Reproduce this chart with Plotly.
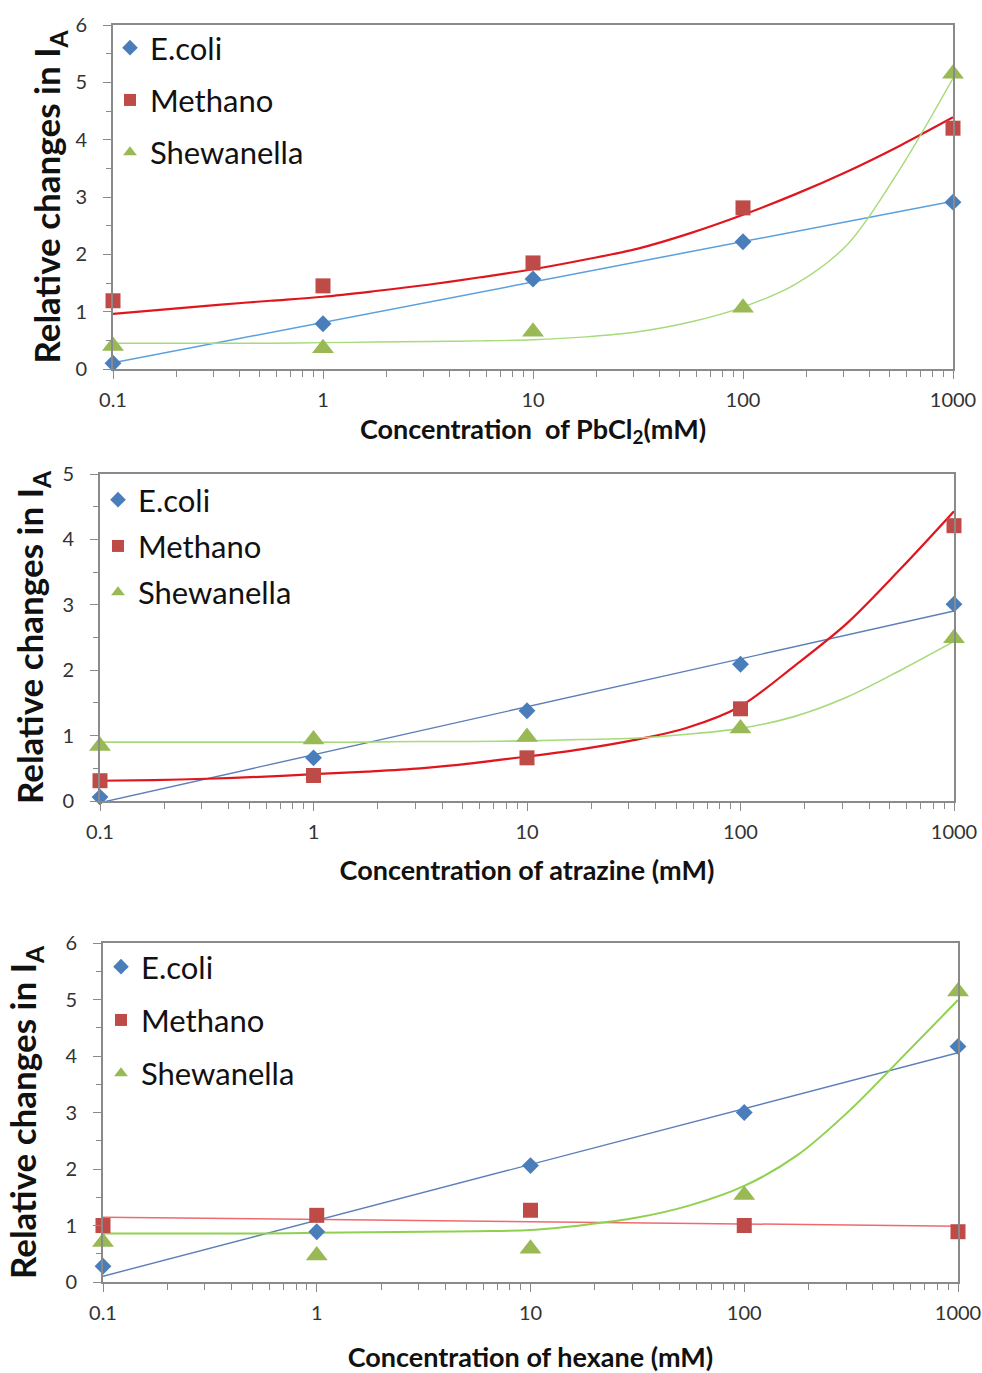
import numpy as np
import plotly.graph_objects as go

# ---------------- data ----------------
CONC = [0.1, 1, 10, 100, 1000]
SERIES = ["E.coli", "Methano", "Shewanella"]

# Panel 1 : PbCl2
pb_ecoli = [0.10, 0.79, 1.57, 2.22, 2.91]
pb_methano = [1.19, 1.45, 1.85, 2.81, 4.20]
pb_shewanella = [0.40, 0.36, 0.65, 1.07, 5.15]

# Panel 2 : atrazine
at_ecoli = [0.06, 0.66, 1.38, 2.09, 3.01]
at_methano = [0.31, 0.39, 0.66, 1.41, 4.21]
at_shewanella = [0.84, 0.94, 0.98, 1.11, 2.49]

# Panel 3 : hexane
hx_ecoli = [0.28, 0.89, 2.06, 3.00, 4.17]
hx_methano = [1.00, 1.18, 1.27, 1.00, 0.89]
hx_shewanella = [0.71, 0.47, 0.59, 1.54, 5.14]

# curved Excel trendlines, every quarter decade
TREND_X = [0.1, 0.178, 0.316, 0.562, 1, 1.78, 3.16, 5.62, 10,
           17.8, 31.6, 56.2, 100, 178, 316, 562, 1000]
pb_methano_trend = [0.96, 1.04, 1.12, 1.19, 1.26, 1.36, 1.47, 1.60, 1.74,
                    1.91, 2.10, 2.37, 2.69, 3.05, 3.45, 3.90, 4.39]
pb_shewanella_trend = [0.45, 0.45, 0.45, 0.45, 0.46, 0.47, 0.48, 0.49, 0.51,
                       0.56, 0.65, 0.82, 1.08, 1.48, 2.18, 3.50, 5.07]
at_methano_trend = [0.31, 0.32, 0.34, 0.37, 0.41, 0.45, 0.50, 0.58, 0.68,
                    0.79, 0.93, 1.12, 1.45, 2.06, 2.72, 3.55, 4.43]
at_shewanella_trend = [0.90, 0.90, 0.90, 0.90, 0.90, 0.90, 0.91, 0.91, 0.92,
                       0.94, 0.96, 1.02, 1.11, 1.29, 1.59, 2.00, 2.44]
hx_shewanella_trend = [0.86, 0.86, 0.86, 0.86, 0.87, 0.88, 0.89, 0.90, 0.92,
                       1.01, 1.14, 1.36, 1.70, 2.25, 3.06, 4.02, 4.99]

X_TICKS = [0.1, 1, 10, 100, 1000]
X_TICKTEXT = ["0.1", "1", "10", "100", "1000"]
X_TITLES = ["Concentration  of PbCl<sub>2</sub>(mM)",
            "Concentration of atrazine (mM)",
            "Concentration of hexane (mM)"]
Y_TITLE = "Relative changes in I<sub>A</sub>"
Y_MAX = [6, 5, 6]

# ---------------- styling ----------------
FONT = "Lato"
C_BLUE, C_RED, C_GREEN = "#4A7EBB", "#BE4B48", "#98B954"
AXC = "#8A8A8A"

fig = go.Figure()


def log_fit(x, y):
    lx = np.log10(np.array(x, dtype=float))
    b, a = np.polyfit(lx, np.array(y, dtype=float), 1)
    xs = np.array([x[0], x[-1]], dtype=float)
    return xs, a + b * np.log10(xs)


panels = [
    dict(data=[pb_ecoli, pb_methano, pb_shewanella],
         trends=[("fit", "#5AA0DC", 1.5), (pb_methano_trend, "#E0161E", 2.2),
                 (pb_shewanella_trend, "#A6DA7A", 1.4)]),
    dict(data=[at_ecoli, at_methano, at_shewanella],
         trends=[("fit", "#5C7FB8", 1.4), (at_methano_trend, "#E0161E", 2.2),
                 (at_shewanella_trend, "#A6DA7A", 1.6)]),
    dict(data=[hx_ecoli, hx_methano, hx_shewanella],
         trends=[("fit", "#5C7FB8", 1.4), ("fit", "#EE6A6E", 1.5),
                 (hx_shewanella_trend, "#8FD14F", 2.0)]),
]

symbols = ["diamond", "square", "triangle-up"]
msizes = [13, 15, 19]
colors = [C_BLUE, C_RED, C_GREEN]
legend_names = ["legend", "legend2", "legend3"]

for p, panel in enumerate(panels):
    xa = "x" if p == 0 else f"x{p+1}"
    ya = "y" if p == 0 else f"y{p+1}"
    for s, (tr, col, w) in enumerate(panel["trends"]):
        if isinstance(tr, str):
            xs, ys = log_fit(CONC, panel["data"][s])
            fig.add_trace(go.Scatter(x=xs, y=ys, mode="lines", xaxis=xa, yaxis=ya,
                                     line=dict(color=col, width=w),
                                     showlegend=False, hoverinfo="skip"))
        else:
            fig.add_trace(go.Scatter(x=TREND_X, y=tr, mode="lines", xaxis=xa, yaxis=ya,
                                     line=dict(color=col, width=w, shape="spline", smoothing=0.9),
                                     showlegend=False, hoverinfo="skip"))
    for s in range(3):
        fig.add_trace(go.Scatter(
            x=CONC, y=panel["data"][s], mode="markers", name=SERIES[s],
            xaxis=xa, yaxis=ya, cliponaxis=False,
            marker=dict(symbol=symbols[s], size=msizes[s], color=colors[s],
                        line=dict(width=0)),
            legend=legend_names[p], legendgroup=f"{p}-{s}"))

# ---------------- layout ----------------
# the page body margin is removed (see post_script), so figure px == window px
OFF = 0
W, H = 982, 1373
ML, MR, MT, MB = 100, 24, 25, 91
PW, PH = W - ML - MR, H - MT - MB


def xdom(l, r):
    l, r = l - OFF, r - OFF
    return [(l - ML) / PW, (r - ML) / PW]


def ydom(top, bottom):
    top, bottom = top - OFF, bottom - OFF
    return [(H - MB - bottom) / PH, (H - MB - top) / PH]


boxes = [(113, 953, 25, 369), (100, 954, 474, 801), (103, 958, 943, 1282)]
xstandoff = [10, 19, 36]
ystandoff = [4, 8, 18]

minor_vals = [m * 10.0 ** e for e in range(-1, 3) for m in range(2, 10)]

layout = dict(
    width=W, height=H,
    margin=dict(l=ML, r=MR, t=MT, b=MB, autoexpand=False),
    paper_bgcolor="white", plot_bgcolor="white",
    font=dict(family=FONT, color="#222"),
    showlegend=True,
)

for p, (l, r, t, b) in enumerate(boxes):
    sx = "" if p == 0 else str(p + 1)
    layout[f"xaxis{sx}"] = dict(
        type="log", range=[-1, 3], domain=xdom(l, r), anchor=f"y{sx}",
        automargin=False,
        tickvals=X_TICKS, ticktext=X_TICKTEXT,
        ticks="outside", ticklen=8, tickwidth=1.3, tickcolor=AXC,
        minor=dict(tickvals=minor_vals, ticks="outside", ticklen=6,
                   tickwidth=1.3, tickcolor=AXC, showgrid=False),
        showline=True, linecolor=AXC, linewidth=1.6, mirror=True,
        showgrid=False, zeroline=False,
        tickfont=dict(family=FONT, size=20, color="#333"),
        ticklabelstandoff=4, ticklabeloverflow="allow",
        title=dict(text=X_TITLES[p], standoff=xstandoff[p],
                   font=dict(family=FONT, size=27, color="#111", weight="bold")),
    )
    layout[f"yaxis{sx}"] = dict(
        range=[0, Y_MAX[p]], domain=ydom(t, b), anchor=f"x{sx}",
        automargin=False,
        dtick=1, tick0=0,
        ticks="outside", ticklen=8, tickwidth=1.3, tickcolor=AXC,
        minor=dict(dtick=0.5, tick0=0, ticks="outside", ticklen=5,
                   tickwidth=1.3, tickcolor=AXC, showgrid=False),
        showline=True, linecolor=AXC, linewidth=1.6, mirror=True,
        showgrid=False, zeroline=False,
        tickfont=dict(family=FONT, size=20, color="#333"),
        ticklabelstandoff=12,
        title=dict(text=Y_TITLE, standoff=ystandoff[p],
                   font=dict(family=FONT, size=35, color="#111", weight="bold")),
    )

# (legend left edge, legend top, gap between entries) in window pixels
legend_pos = [(110, 21, 9), (98, 473, 3), (101, 940, 10)]
for p, (lx, ty, gap) in enumerate(legend_pos):
    key = "legend" if p == 0 else f"legend{p+1}"
    layout[key] = dict(
        x=(lx - OFF - ML) / PW, y=(H - MB - (ty - OFF)) / PH,
        xanchor="left", yanchor="top",
        bgcolor="rgba(0,0,0,0)", borderwidth=0,
        font=dict(family=FONT, size=31, color="#111"),
        tracegroupgap=gap, itemsizing="constant",
    )

fig.update_layout(**layout)
# drop the default 8px page margin and the scrollbars so the figure fills the window
fig.write_html("out.html",
               config={"displayModeBar": False},
               post_script="document.body.style.margin='0';"
                           "document.documentElement.style.overflow='hidden';")
